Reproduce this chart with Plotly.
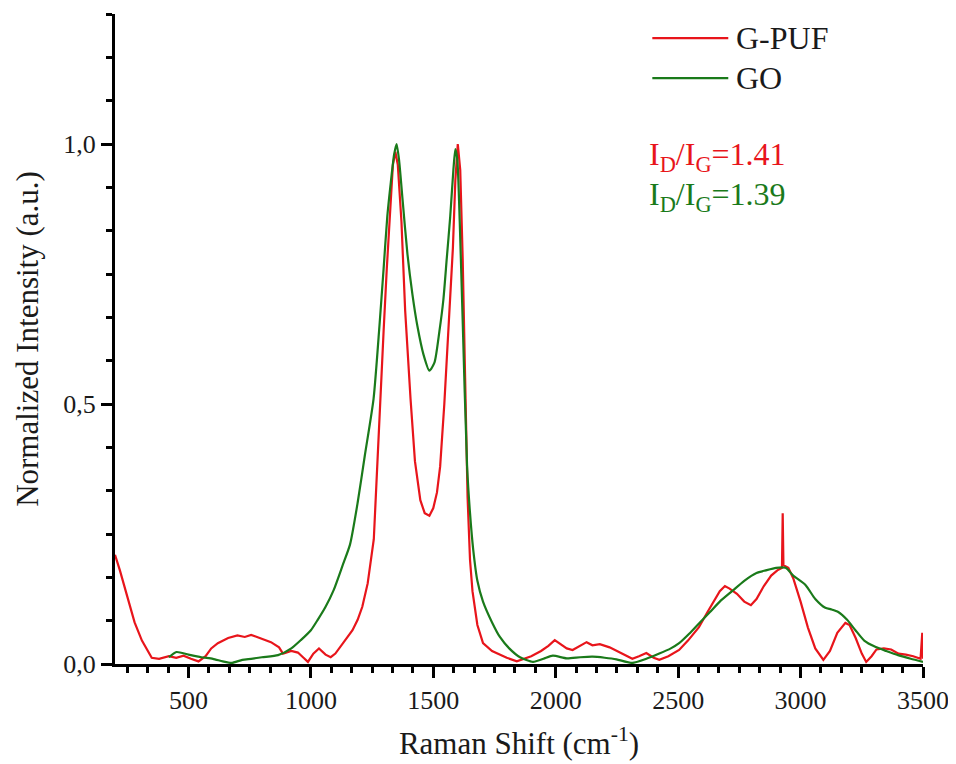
import plotly.graph_objects as go

# ---- data ----
gpuf_x = [200, 220, 250, 280, 310, 350, 380, 420, 450, 480, 510, 541, 570, 593, 620, 662, 700, 730, 756, 790,
          837, 870, 886, 920, 947, 970, 988, 1010, 1033, 1060, 1081, 1100, 1130, 1150, 1170, 1191, 1210, 1232,
          1257, 1272, 1285, 1297, 1310, 1325, 1335, 1345, 1355, 1370, 1385, 1407, 1425, 1447, 1465, 1484, 1500,
          1515, 1528, 1545, 1560, 1569, 1580, 1590, 1600, 1610, 1620, 1630, 1640, 1650, 1660, 1680, 1703, 1740,
          1772, 1800, 1841, 1870, 1900, 1940, 1970, 1996, 2020, 2045, 2069, 2100, 2126, 2150, 2180, 2220, 2260,
          2290, 2313, 2340, 2370, 2400, 2423, 2460, 2504, 2540, 2585, 2620, 2650, 2670, 2691, 2710, 2740, 2770,
          2797, 2820, 2850, 2880, 2905, 2924, 2927, 2930, 2950, 2970, 3000, 3030, 3060, 3093, 3120, 3150, 3183,
          3200, 3225, 3250, 3268, 3290, 3310, 3340, 3370, 3400, 3430, 3460, 3490, 3497, 3500]
gpuf_y = [0.21, 0.18, 0.13, 0.08, 0.045, 0.012, 0.010, 0.015, 0.012, 0.016, 0.010, 0.005, 0.015, 0.030, 0.040,
          0.050, 0.055, 0.052, 0.056, 0.050, 0.042, 0.032, 0.020, 0.025, 0.022, 0.012, 0.004, 0.020, 0.030, 0.018,
          0.013, 0.020, 0.038, 0.052, 0.065, 0.085, 0.110, 0.155, 0.24, 0.40, 0.52, 0.64, 0.76, 0.89, 0.96, 0.985,
          0.96, 0.85, 0.68, 0.51, 0.39, 0.315, 0.29, 0.285, 0.30, 0.33, 0.38, 0.50, 0.64, 0.70, 0.80, 0.93, 1.0,
          0.95, 0.78, 0.55, 0.32, 0.20, 0.14, 0.075, 0.04, 0.025, 0.018, 0.012, 0.005, 0.010, 0.015, 0.025, 0.035,
          0.046, 0.038, 0.030, 0.027, 0.035, 0.042, 0.036, 0.038, 0.032, 0.022, 0.015, 0.010, 0.015, 0.021, 0.012,
          0.008, 0.015, 0.027, 0.045, 0.071, 0.10, 0.125, 0.14, 0.15, 0.145, 0.135, 0.12, 0.113, 0.125, 0.150,
          0.170, 0.180, 0.185, 0.29, 0.19, 0.185, 0.165, 0.12, 0.07, 0.03, 0.008, 0.025, 0.06, 0.079, 0.075, 0.05,
          0.02, 0.004, 0.015, 0.028, 0.030, 0.028, 0.020, 0.018, 0.015, 0.010, 0.06, 0.010]

go_x = [420, 451, 500, 553, 600, 640, 675, 720, 756, 800, 866, 920, 959, 1000, 1028, 1060, 1093, 1130, 1160,
        1191, 1220, 1256, 1280, 1297, 1312, 1325, 1340, 1350, 1360, 1375, 1394, 1415, 1435, 1460, 1484, 1505,
        1525, 1541, 1555, 1569, 1582, 1590, 1598, 1608, 1620, 1638, 1650, 1663, 1680, 1703, 1740, 1772, 1810,
        1854, 1907, 1950, 1988, 2045, 2100, 2150, 2200, 2248, 2313, 2370, 2423, 2470, 2504, 2545, 2585, 2630,
        2670, 2720, 2770, 2820, 2857, 2900, 2939, 2970, 3020, 3060, 3101, 3125, 3154, 3190, 3224, 3260, 3305,
        3350, 3398, 3450, 3500]
go_y = [0.013, 0.023, 0.018, 0.013, 0.010, 0.005, 0.002, 0.008, 0.010, 0.013, 0.017, 0.030, 0.046, 0.065,
        0.085, 0.11, 0.142, 0.19, 0.23, 0.31, 0.40, 0.51, 0.65, 0.76, 0.86, 0.92, 0.98, 1.0, 0.97, 0.89, 0.79,
        0.71, 0.65, 0.595, 0.564, 0.58, 0.64, 0.70, 0.78, 0.86, 0.95, 0.99, 0.97, 0.85, 0.66, 0.38, 0.29, 0.22,
        0.16, 0.12, 0.08, 0.052, 0.030, 0.013, 0.004, 0.010, 0.016, 0.011, 0.013, 0.014, 0.012, 0.009, 0.002,
        0.010, 0.020, 0.030, 0.040, 0.058, 0.078, 0.10, 0.12, 0.14, 0.16, 0.175, 0.18, 0.185, 0.185, 0.17,
        0.152, 0.125, 0.108, 0.105, 0.10, 0.085, 0.065, 0.045, 0.033, 0.025, 0.017, 0.010, 0.004]

series_names = ["G-PUF", "GO"]
series_colors = ["#e8151b", "#1a7a1a"]
ratio_labels = ["I<sub>D</sub>/I<sub>G</sub>=1.41", "I<sub>D</sub>/I<sub>G</sub>=1.39"]

x_title = "Raman Shift (cm<sup>-1</sup>)"
y_title = "Normalized Intensity (a.u.)"

FONT = "Liberation Serif, Times New Roman, serif"
TXT = "#1a1a1a"

fig = go.Figure()
fig.add_trace(go.Scatter(x=gpuf_x, y=gpuf_y, mode="lines", name=series_names[0],
                         line=dict(color=series_colors[0], width=2.2), showlegend=False))
fig.add_trace(go.Scatter(x=go_x, y=go_y, mode="lines", name=series_names[1],
                         line=dict(color=series_colors[1], width=2.2, shape="spline", smoothing=0.6),
                         showlegend=False))

# manual legend (long line samples like the reference)
leg_y = [0.963, 0.9015]
for i in range(2):
    fig.add_shape(type="line", xref="paper", yref="paper", x0=0.665, x1=0.759, y0=leg_y[i], y1=leg_y[i],
                  line=dict(color=series_colors[i], width=2.2))
    fig.add_annotation(xref="paper", yref="paper", x=0.766, y=leg_y[i], text=series_names[i], showarrow=False,
                       xanchor="left", yanchor="middle", font=dict(family=FONT, size=32, color=TXT))

ratio_y = [0.78, 0.7185]
for i in range(2):
    fig.add_annotation(xref="paper", yref="paper", x=0.659, y=ratio_y[i], text=ratio_labels[i], showarrow=False,
                       xanchor="left", yanchor="middle", font=dict(family=FONT, size=32, color=series_colors[i]))

fig.update_layout(
    width=956, height=764,
    margin=dict(l=107, r=41, t=6, b=108),
    paper_bgcolor="white", plot_bgcolor="white",
    separators=", ",
    font=dict(family=FONT, size=26, color=TXT),
)
fig.update_xaxes(
    range=[200, 3500], showgrid=False, zeroline=False,
    showline=True, linecolor="black", linewidth=3,
    ticks="outside", ticklen=11, tickwidth=3, tickcolor="black",
    tick0=500, dtick=500,
    minor=dict(ticks="outside", ticklen=6, tickwidth=3, tickcolor="black", tick0=0, dtick=500 / 6, showgrid=False),
    tickfont=dict(family=FONT, size=26, color=TXT),
    title=dict(text=x_title, font=dict(family=FONT, size=31, color=TXT), standoff=19),
)
fig.update_yaxes(
    range=[0, 1.25], showgrid=False, zeroline=False,
    showline=True, linecolor="black", linewidth=3,
    ticks="outside", ticklen=11, tickwidth=3, tickcolor="black",
    tick0=0, dtick=0.5, tickformat=".1f",
    minor=dict(ticks="outside", ticklen=6, tickwidth=3, tickcolor="black", tick0=0, dtick=1 / 12, showgrid=False),
    tickfont=dict(family=FONT, size=26, color=TXT),
    title=dict(text=y_title, font=dict(family=FONT, size=31, color=TXT), standoff=16),
)

fig.write_html("out.html")
